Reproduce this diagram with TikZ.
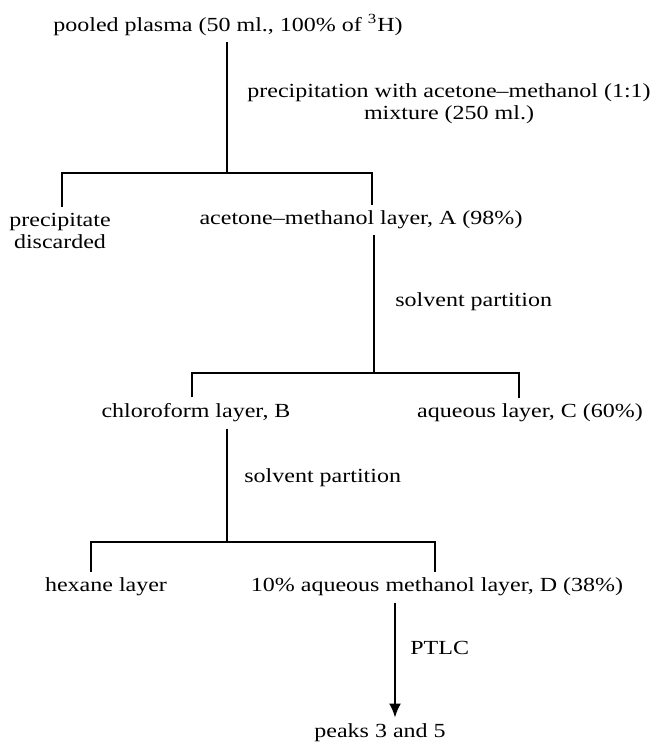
\documentclass[tikz,border=0pt]{standalone}
\usepackage{fontspec}
\setmainfont{Liberation Serif}[FakeStretch=1.2]
\usetikzlibrary{arrows.meta}

\begin{document}
\begin{tikzpicture}[x=0.5pt, y=-0.5pt,
  txt/.style={font=\fontsize{10}{11}\selectfont, inner sep=3pt},
  ln/.style={line width=1pt},
  ar/.style={-{Latex[length=7pt,width=6pt]}, line width=1pt}]
\useasboundingbox (0,0) rectangle (653,744);
\node[txt] (plasma) at (228,25) {pooled plasma (50 ml., 100\% of \textsuperscript{3}H)};
\node[txt, align=center] (prec) at (449,104)
  {precipitation with acetone--methanol (1:1)\\mixture (250 ml.)};
\coordinate (b1) at (227,173);
\coordinate (b1l) at (62,173);
\coordinate (b1r) at (372,173);
\node[txt, align=center] (disc) at (60,231) {precipitate\\discarded};
\node[txt] (layA) at (361,220) {acetone--methanol layer, A (98\%)};
\node[txt, anchor=west] (sp1) at (389,302) {solvent partition};
\coordinate (b2) at (374,373);
\coordinate (b2l) at (192,373);
\coordinate (b2r) at (519,373);
\node[txt] (layB) at (196,413) {chloroform layer, B};
\node[txt] (layC) at (530,413) {aqueous layer, C (60\%)};
\node[txt, anchor=west] (sp2) at (238,478) {solvent partition};
\coordinate (b3) at (227,542);
\coordinate (b3l) at (91,542);
\coordinate (b3r) at (435,542);
\node[txt] (hex) at (106,587) {hexane layer};
\node[txt] (layD) at (437,587) {10\% aqueous methanol layer, D (38\%)};
\node[txt, anchor=west] (ptlc) at (404,648) {PTLC};
\node[txt] (peaks) at (380,733) {peaks 3 and 5};
\draw[ln] (plasma.south -| b1) -- (b1);
\draw[ln] (b1l |- disc.north) -- (b1l) -- (b1r) -- (b1r |- layA.north);
\draw[ln] (layA.south -| b2) -- (b2);
\draw[ln] (b2l |- layB.north) -- (b2l) -- (b2r) -- (b2r |- layC.north);
\draw[ln] (layB.south -| b3) -- (b3);
\draw[ln] (b3l |- hex.north) -- (b3l) -- (b3r) -- (b3r |- layD.north);
\draw[ar] (layD.south -| 395,0) -- (peaks.north -| 395,0);
\end{tikzpicture}
\end{document}
